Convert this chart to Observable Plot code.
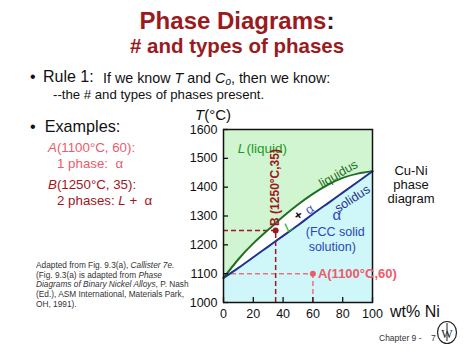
<!DOCTYPE html>
<html>
<head>
<meta charset="utf-8">
<script src="https://cdn.jsdelivr.net/npm/d3@7"></script>
<script src="https://cdn.jsdelivr.net/npm/@observablehq/plot@0.6"></script>
<style>
  html, body { margin: 0; padding: 0; background: #fff; }
  #page { position: relative; width: 474px; height: 355px; overflow: hidden; font-family: "Liberation Sans", Arial, sans-serif; color: #111; }
  .abs { position: absolute; white-space: nowrap; }
  #chart { position: absolute; left: 170px; top: 105px; }
  sub { font-size: 70%; vertical-align: -2px; }
</style>
</head>
<body>
<div id="page">
  <div class="abs" style="left:0;width:474px;text-align:center;top:7px;font-size:24px;font-weight:bold;color:#9a1b1e;line-height:28px;">Phase Diagrams<span style="color:#222">:</span></div>
  <div class="abs" style="left:0;width:474px;text-align:center;top:34px;font-size:20.5px;font-weight:bold;color:#9a1b1e;line-height:24px;">#&nbsp;and types of phases</div>
  <div class="abs" style="left:30px;top:68px;font-size:16px;line-height:18px;">•</div>
  <div class="abs" style="left:43px;top:68px;font-size:16px;line-height:18px;">Rule 1:</div>
  <div class="abs" style="left:103px;top:69.5px;font-size:14.3px;line-height:17px;">If we know <i>T</i> and <i>C<sub>o</sub></i>, then we know:</div>
  <div class="abs" style="left:53px;top:86.5px;font-size:13.2px;line-height:15px;">--the # and types of phases present.</div>
  <div class="abs" style="left:30px;top:117px;font-size:16.2px;line-height:19px;">•&nbsp; Examples:</div>
  <div class="abs" style="left:48px;top:141px;font-size:13.3px;line-height:14px;color:#e85c6c;"><i>A</i>(1100°C, 60):</div>
  <div class="abs" style="left:57px;top:157px;font-size:13.3px;line-height:14px;color:#e85c6c;">1 phase:&nbsp; α</div>
  <div class="abs" style="left:48px;top:178px;font-size:13.3px;line-height:14px;color:#a0161e;"><i>B</i>(1250°C, 35):</div>
  <div class="abs" style="left:57px;top:194px;font-size:13.3px;line-height:14px;color:#a0161e;">2 phases: <i>L</i> +&nbsp; α</div>
  <div class="abs" style="left:36px;top:261px;font-size:8.3px;line-height:9.7px;color:#333;">Adapted from Fig. 9.3(a), <i>Callister 7e.</i><br>(Fig. 9.3(a) is adapted from <i>Phase</i><br><i>Diagrams of Binary Nickel Alloys</i>, P. Nash<br>(Ed.), ASM International, Materials Park,<br>OH, 1991).</div>
  <div class="abs" style="left:380px;width:62px;text-align:center;top:164px;font-size:13px;line-height:14px;">Cu-Ni<br>phase<br>diagram</div>
  <div class="abs" style="left:195px;top:106px;font-size:15px;line-height:17px;"><i>T</i>(°C)</div>
  <div class="abs" style="left:390px;top:302px;font-size:16px;line-height:19px;">wt% Ni</div>
  <div class="abs" style="left:379px;top:333px;font-size:8.5px;line-height:10px;color:#333;">Chapter 9 -&nbsp;&nbsp;&nbsp; 7</div>
  <svg class="abs" style="left:436px;top:320px;" width="22" height="26">
    <ellipse cx="11" cy="12.5" rx="9.5" ry="11" fill="none" stroke="#222" stroke-width="1.2"/>
    <text x="11" y="17.5" text-anchor="middle" font-size="12" font-family="Liberation Serif, serif" fill="#222">W</text>
    <line x1="11" y1="3" x2="11" y2="21" stroke="#222" stroke-width="1"/>
  </svg>
  <div id="chart"></div>
</div>
<script>
// Composition (wt% Ni) and boundary temperatures (°C)
const ni = [0, 10, 20, 30, 40, 50, 60, 70, 80, 90, 100];
const liquidus = [1085, 1150, 1205, 1252, 1298, 1340, 1377, 1408, 1432, 1447, 1455];
const solidus  = [1085, 1120, 1157, 1194, 1231, 1268, 1307, 1344, 1381, 1418, 1455];

// Example points
const pointNames = ["A", "B"];
const pointNi = [60, 35];
const pointT = [1100, 1250];
const pointColors = ["#ee5a6a", "#a0161e"];

// Ticks
const xTicks = [0, 20, 40, 60, 80, 100];
const yTicks = [1000, 1100, 1200, 1300, 1400, 1500, 1600];

const TMIN = 1000, TMAX = 1600;
const curve = ni.map((x, i) => ({x, liq: liquidus[i], sol: solidus[i]}));
const pts = pointNames.map((n, i) => ({name: n, x: pointNi[i], t: pointT[i], color: pointColors[i]}));

const green = "#1f6e22", blue = "#22318f", fccBlue = "#2a46b8";

const chart = Plot.plot({
  width: 300,
  height: 220,
  marginLeft: 53,
  marginRight: 98,
  marginTop: 24,
  marginBottom: 23,
  style: {fontFamily: "Liberation Sans, Arial, sans-serif", background: "transparent", overflow: "visible"},
  x: {domain: [0, 100], ticks: xTicks, label: null},
  y: {domain: [TMIN, TMAX], ticks: yTicks, label: null},
  marks: [
    Plot.areaY(curve, {x: "x", y1: "liq", y2: TMAX, fill: "#d1f5d1", curve: "natural"}),
    Plot.areaY(curve, {x: "x", y1: TMIN, y2: "sol", fill: "#cff6f8", curve: "natural"}),
    // dashed guides
    Plot.ruleY([pts[0]], {y: "t", x1: 0, x2: "x", stroke: "#f07080", strokeWidth: 1.5, strokeDasharray: "5,3"}),
    Plot.ruleX([pts[0]], {x: "x", y1: TMIN, y2: "t", stroke: "#f07080", strokeWidth: 1.5, strokeDasharray: "5,3"}),
    Plot.ruleY([pts[1]], {y: "t", x1: 0, x2: "x", stroke: "#a0161e", strokeWidth: 1.5, strokeDasharray: "5,3"}),
    Plot.ruleX([pts[1]], {x: "x", y1: TMIN, y2: "t", stroke: "#a0161e", strokeWidth: 1.5, strokeDasharray: "5,3"}),
    Plot.line(curve, {x: "x", y: "liq", stroke: green, strokeWidth: 2, curve: "natural"}),
    Plot.line(curve, {x: "x", y: "sol", stroke: blue, strokeWidth: 2, curve: "natural"}),
    Plot.dot(pts, {x: "x", y: "t", r: 3, fill: "color", stroke: "none"}),
    Plot.frame({stroke: "#111", strokeWidth: 1.5}),
    Plot.axisX({ticks: xTicks, tickSize: -5, tickPadding: 12, fontSize: 12.5, stroke: "#111", strokeWidth: 1.3, fill: "#111", tickFormat: d => String(d)}),
    Plot.axisY({ticks: yTicks, tickSize: -5, tickPadding: 11, fontSize: 12.5, stroke: "#111", strokeWidth: 1.3, fill: "#111", tickFormat: d => String(d)}),
    // region labels
    Plot.text(["L"], {x: 9.5, y: 1534, text: d => d, textAnchor: "start", fontSize: 13.5, fontStyle: "italic", fill: "#1e9a1e"}),
    Plot.text(["(liquid)"], {x: 15.5, y: 1534, text: d => d, textAnchor: "start", fontSize: 13.5, fill: "#1e9a1e"}),
    Plot.text(["liquidus"], {x: 77, y: 1446, text: d => d, rotate: -30, fontSize: 12.5, fill: green}),
    Plot.text(["solidus"], {x: 86.5, y: 1360, text: d => d, rotate: -33, fontSize: 12.5, fill: blue}),
    Plot.text(["α"], {x: 76, y: 1302, text: d => d, fontSize: 15, fill: fccBlue}),
    Plot.text(["(FCC solid"], {x: 75, y: 1243, text: d => d, fontSize: 12.5, fill: fccBlue}),
    Plot.text(["solution)"], {x: 73, y: 1191, text: d => d, fontSize: 12.5, fill: fccBlue}),
    Plot.text(["L"], {x: 43.6, y: 1262, text: d => d, rotate: -36, fontSize: 13, fontStyle: "italic", fill: "#22b022"}),
    Plot.text(["+"], {x: 50.3, y: 1302, text: d => d, rotate: -36, fontSize: 13, fontWeight: "bold", fill: "#111"}),
    Plot.text(["α"], {x: 57.7, y: 1323, text: d => d, rotate: -36, fontSize: 13, fill: "#3a5ad0"}),
    Plot.text([pts[1]], {x: "x", y: 1399, text: d => d.name + " (1250°C,35)", rotate: -90, fontSize: 12, fontWeight: "bold", fill: "#a0161e"}),
    Plot.text([pts[0]], {x: "x", y: "t", text: d => d.name + "(1100°C,60)", dx: 5, textAnchor: "start", fontSize: 13, fontWeight: "bold", fill: "#ee5a6a"})
  ]
});
document.getElementById("chart").appendChild(chart);
</script>
</body>
</html>
